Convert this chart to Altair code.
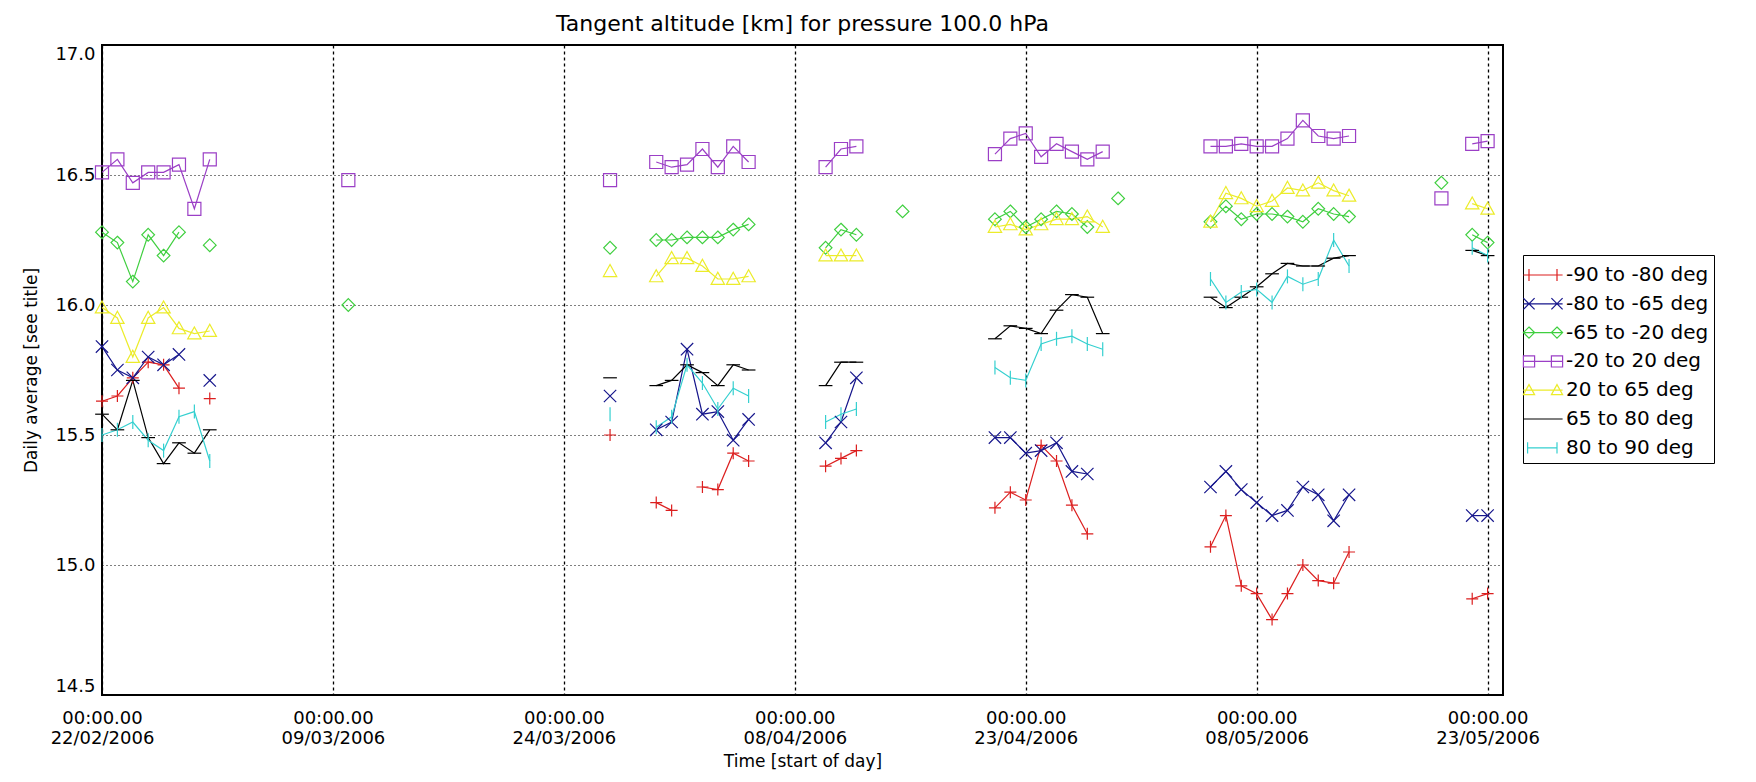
import altair as alt
import pandas as pd

series = ["-90 to -80 deg", "-80 to -65 deg", "-65 to -20 deg", "-20 to 20 deg",
          "20 to 65 deg", "65 to 80 deg", "80 to 90 deg"]
colors = ["#dc1f1f", "#16168c", "#3fcf3f", "#9b3fc6", "#ecec2a", "#000000", "#35d0d0"]

dates = ["2006-02-22", "2006-02-23", "2006-02-24", "2006-02-25", "2006-02-26", "2006-02-27",
         "2006-02-28", "2006-03-01", "2006-03-10", "2006-03-27", "2006-03-30", "2006-03-31",
         "2006-04-01", "2006-04-02", "2006-04-03", "2006-04-04", "2006-04-05", "2006-04-10",
         "2006-04-11", "2006-04-12", "2006-04-15", "2006-04-21", "2006-04-22", "2006-04-23",
         "2006-04-24", "2006-04-25", "2006-04-26", "2006-04-27", "2006-04-28", "2006-04-29",
         "2006-05-05", "2006-05-06", "2006-05-07", "2006-05-08", "2006-05-09", "2006-05-10",
         "2006-05-11", "2006-05-12", "2006-05-13", "2006-05-14", "2006-05-20", "2006-05-22",
         "2006-05-23"]

red = [15.63, 15.65, 15.72, 15.78, 15.77, 15.68, None, 15.64,
       None, 15.50,
       15.24, 15.21, None, 15.30, 15.29, 15.43, 15.40,
       15.38, 15.41, 15.44,
       None,
       15.22, 15.28, 15.25, 15.46, 15.40, 15.23, 15.12, None, None,
       15.07, 15.19, 14.92, 14.89, 14.79, 14.89, 15.00, 14.94, 14.93, 15.05,
       None, 14.87, 14.89]
navy = [15.84, 15.75, 15.72, 15.80, 15.77, 15.81, None, 15.71,
        None, 15.65,
        15.52, 15.55, 15.83, 15.58, 15.59, 15.48, 15.56,
        15.47, 15.55, 15.72,
        None,
        15.49, 15.49, 15.43, 15.44, 15.47, 15.36, 15.35, None, None,
        15.30, 15.36, 15.29, 15.24, 15.19, 15.21, 15.30, 15.27, 15.17, 15.27,
        None, 15.19, 15.19]
green = [16.28, 16.24, 16.09, 16.27, 16.19, 16.28, None, 16.23,
         16.00, 16.22,
         16.25, 16.25, 16.26, 16.26, 16.26, 16.29, 16.31,
         16.22, 16.29, 16.27,
         16.36,
         16.33, 16.36, 16.30, 16.33, 16.36, 16.35, 16.30, None, 16.41,
         16.32, 16.38, 16.33, 16.35, 16.35, 16.34, 16.32, 16.37, 16.35, 16.34,
         16.47, 16.27, 16.24]
purple = [16.51, 16.56, 16.47, 16.51, 16.51, 16.54, 16.37, 16.56,
          16.48, 16.48,
          16.55, 16.53, 16.54, 16.60, 16.53, 16.61, 16.55,
          16.53, 16.60, 16.61,
          None,
          16.58, 16.64, 16.66, 16.57, 16.62, 16.59, 16.56, 16.59, None,
          16.61, 16.61, 16.62, 16.61, 16.61, 16.64, 16.71, 16.65, 16.64, 16.65,
          16.41, 16.62, 16.63]
yellow = [15.99, 15.95, 15.80, 15.95, 15.99, 15.91, 15.89, 15.90,
          None, 16.13,
          16.11, 16.18, 16.18, 16.15, 16.10, 16.10, 16.11,
          16.19, 16.19, 16.19,
          None,
          16.30, 16.31, 16.29, 16.31, 16.33, 16.33, 16.34, 16.30, None,
          16.32, 16.43, 16.41, 16.38, 16.40, 16.45, 16.44, 16.47, 16.44, 16.42,
          None, 16.39, 16.37]
black = [15.58, 15.52, 15.71, 15.49, 15.39, 15.47, 15.43, 15.52,
         None, 15.72,
         15.69, 15.71, 15.77, 15.74, 15.69, 15.77, 15.75,
         15.69, 15.78, 15.78,
         None,
         15.87, 15.92, 15.91, 15.89, 15.98, 16.04, 16.03, 15.89, None,
         16.03, 15.99, 16.03, 16.07, 16.12, 16.16, 16.15, 16.15, 16.18, 16.19,
         None, 16.21, 16.19]
cyan = [15.50, 15.52, 15.55, 15.48, 15.44, 15.57, 15.59, 15.40,
        None, 15.58,
        15.53, 15.57, 15.77, 15.70, 15.60, 15.68, 15.65,
        15.55, 15.58, 15.60,
        None,
        15.76, 15.72, 15.71, 15.85, 15.87, 15.88, 15.85, 15.83, None,
        16.10, 16.01, 16.05, 16.06, 16.01, 16.11, 16.08, 16.10, 16.25, 16.15,
        None, 16.22, 16.19]

values = [red, navy, green, purple, yellow, black, cyan]

tick_dates = [(2006, 2, 22), (2006, 3, 9), (2006, 3, 24), (2006, 4, 8),
              (2006, 4, 23), (2006, 5, 8), (2006, 5, 23)]
y_ticks = [14.5, 15.0, 15.5, 16.0, 16.5, 17.0]

# marker shapes (symbol paths) and sizes
point_shapes = ["M-1,0L1,0M0,-1L0,1",
                "M-1,-1L1,1M-1,1L1,-1",
                "M0,-1L1,0L0,1L-1,0Z",
                "M-1,-1L1,-1L1,1L-1,1Z",
                "M0,-1L1,0.8L-1,0.8Z",
                "M-1,0L1,0",
                "M0,-1L0,1"]
point_sizes = [144, 196, 196, 182, 196, 256, 169]

L = "M-1.4,0L1.4,0"
legend_shapes = [
    L + "M-1,-0.43L-1,0.43M1,-0.43L1,0.43",
    L + "M-1.4,-0.4L-0.6,0.4M-1.4,0.4L-0.6,-0.4M0.6,-0.4L1.4,0.4M0.6,0.4L1.4,-0.4",
    L + "M-1,-0.4L-0.6,0L-1,0.4L-1.4,0ZM1,-0.4L1.4,0L1,0.4L0.6,0Z",
    L + "M-1.4,-0.4L-0.6,-0.4L-0.6,0.4L-1.4,0.4ZM0.6,-0.4L1.4,-0.4L1.4,0.4L0.6,0.4Z",
    L + "M-1,-0.4L-0.6,0.32L-1.4,0.32ZM1,-0.4L1.4,0.32L0.6,0.32Z",
    L,
    "M-1.1,0L1.0,0M-1.1,-0.4L-1.1,0.4M1.0,-0.4L1.0,0.4",
]

rows = []
dt = pd.to_datetime(dates)
for name, vals in zip(series, values):
    seg = 0
    prev = None
    for d, v in zip(dt, vals):
        if v is None:
            prev = None
            continue
        if prev is None or (d - prev).days != 1:
            seg += 1
        rows.append({"date": d.strftime("%Y-%m-%d"), "value": v,
                     "series": name, "seg": f"{name}|{seg}"})
        prev = d
df = pd.DataFrame(rows)

FONT = "DejaVu Sans"

x_enc = alt.X(
    "date:T",
    scale=alt.Scale(type="utc", nice=False,
                    domain=[alt.DateTime(year=2006, month=2, date=22, utc=True),
                            alt.DateTime(year=2006, month=5, date=24, utc=True)]),
    axis=alt.Axis(
        values=[alt.DateTime(year=y, month=m, date=d, utc=True) for y, m, d in tick_dates],
        labelExpr='["00:00.00", utcFormat(datum.value, "%d/%m/%Y")]',
        title="Time [start of day]",
        grid=True, gridDash=[3, 3], gridColor="black", gridOpacity=1, gridWidth=1.3,
        ticks=False, domain=False, labelFlush=False, labelPadding=14,
        labelLineHeight=20, labelBaseline="top", labelAngle=0,
        labelFont=FONT, labelFontSize=18, labelColor="black",
        titleFont=FONT, titleFontSize=17, titleFontWeight="normal", titleColor="black",
        titlePadding=6,
    ),
)
y_enc = alt.Y(
    "value:Q",
    scale=alt.Scale(domain=[14.5, 17.0], nice=False, zero=False),
    axis=alt.Axis(
        values=y_ticks, format=".1f", title="Daily average [see title]",
        grid=True, gridDash=[1, 3], gridColor="black", gridOpacity=1, gridWidth=1.2,
        ticks=False, domain=False, labelFlush=True, labelPadding=7,
        labelFont=FONT, labelFontSize=18, labelColor="black",
        titleFont=FONT, titleFontSize=17, titleFontWeight="normal", titleColor="black",
        titlePadding=14,
    ),
)

color_scale = alt.Scale(domain=series, range=colors)

lines = alt.Chart(df).mark_line(strokeWidth=1.2).encode(
    x=x_enc, y=y_enc,
    color=alt.Color("series:N", scale=color_scale, legend=None),
    detail="seg:N",
)

points = alt.Chart(df).mark_point(filled=False, strokeWidth=1.2, opacity=1).encode(
    x=x_enc, y=y_enc,
    color=alt.Color("series:N", scale=color_scale, legend=None),
    shape=alt.Shape("series:N", scale=alt.Scale(domain=series, range=point_shapes), legend=None),
    size=alt.Size("series:N", scale=alt.Scale(domain=series, range=point_sizes), legend=None),
)

legend_def = dict(
    orient="none", legendX=1421, legendY=210, title=None,
    strokeColor="black", fillColor="white", padding=5,
    symbolSize=784, symbolStrokeWidth=1.2, rowPadding=3.8,
    labelFont=FONT, labelFontSize=20, labelColor="black", labelOffset=8,
    labelLimit=400,
)

legend_layer = alt.Chart(df).transform_filter("datum.value > 100").mark_point(
    filled=False, strokeWidth=1.2, opacity=1
).encode(
    x=x_enc, y=y_enc,
    color=alt.Color("series:N", scale=color_scale, legend=alt.Legend(**legend_def)),
    shape=alt.Shape("series:N", scale=alt.Scale(domain=series, range=legend_shapes),
                    legend=alt.Legend(**legend_def)),
)

chart = alt.layer(lines, points, legend_layer).resolve_scale(
    color="independent", shape="independent", size="independent"
).properties(
    width=1401, height=650,
    background="white",
    autosize=alt.AutoSizeParams(type="none"),
    padding={"left": 94, "top": 37, "right": 245, "bottom": 79},
    title=alt.Title("Tangent altitude [km] for pressure 100.0 hPa",
                    font=FONT, fontSize=22, fontWeight="normal", anchor="middle",
                    color="black", offset=9),
).configure_view(
    stroke="black", strokeWidth=2
)

chart.save("out.html", embed_options={"renderer": "svg", "actions": False})
